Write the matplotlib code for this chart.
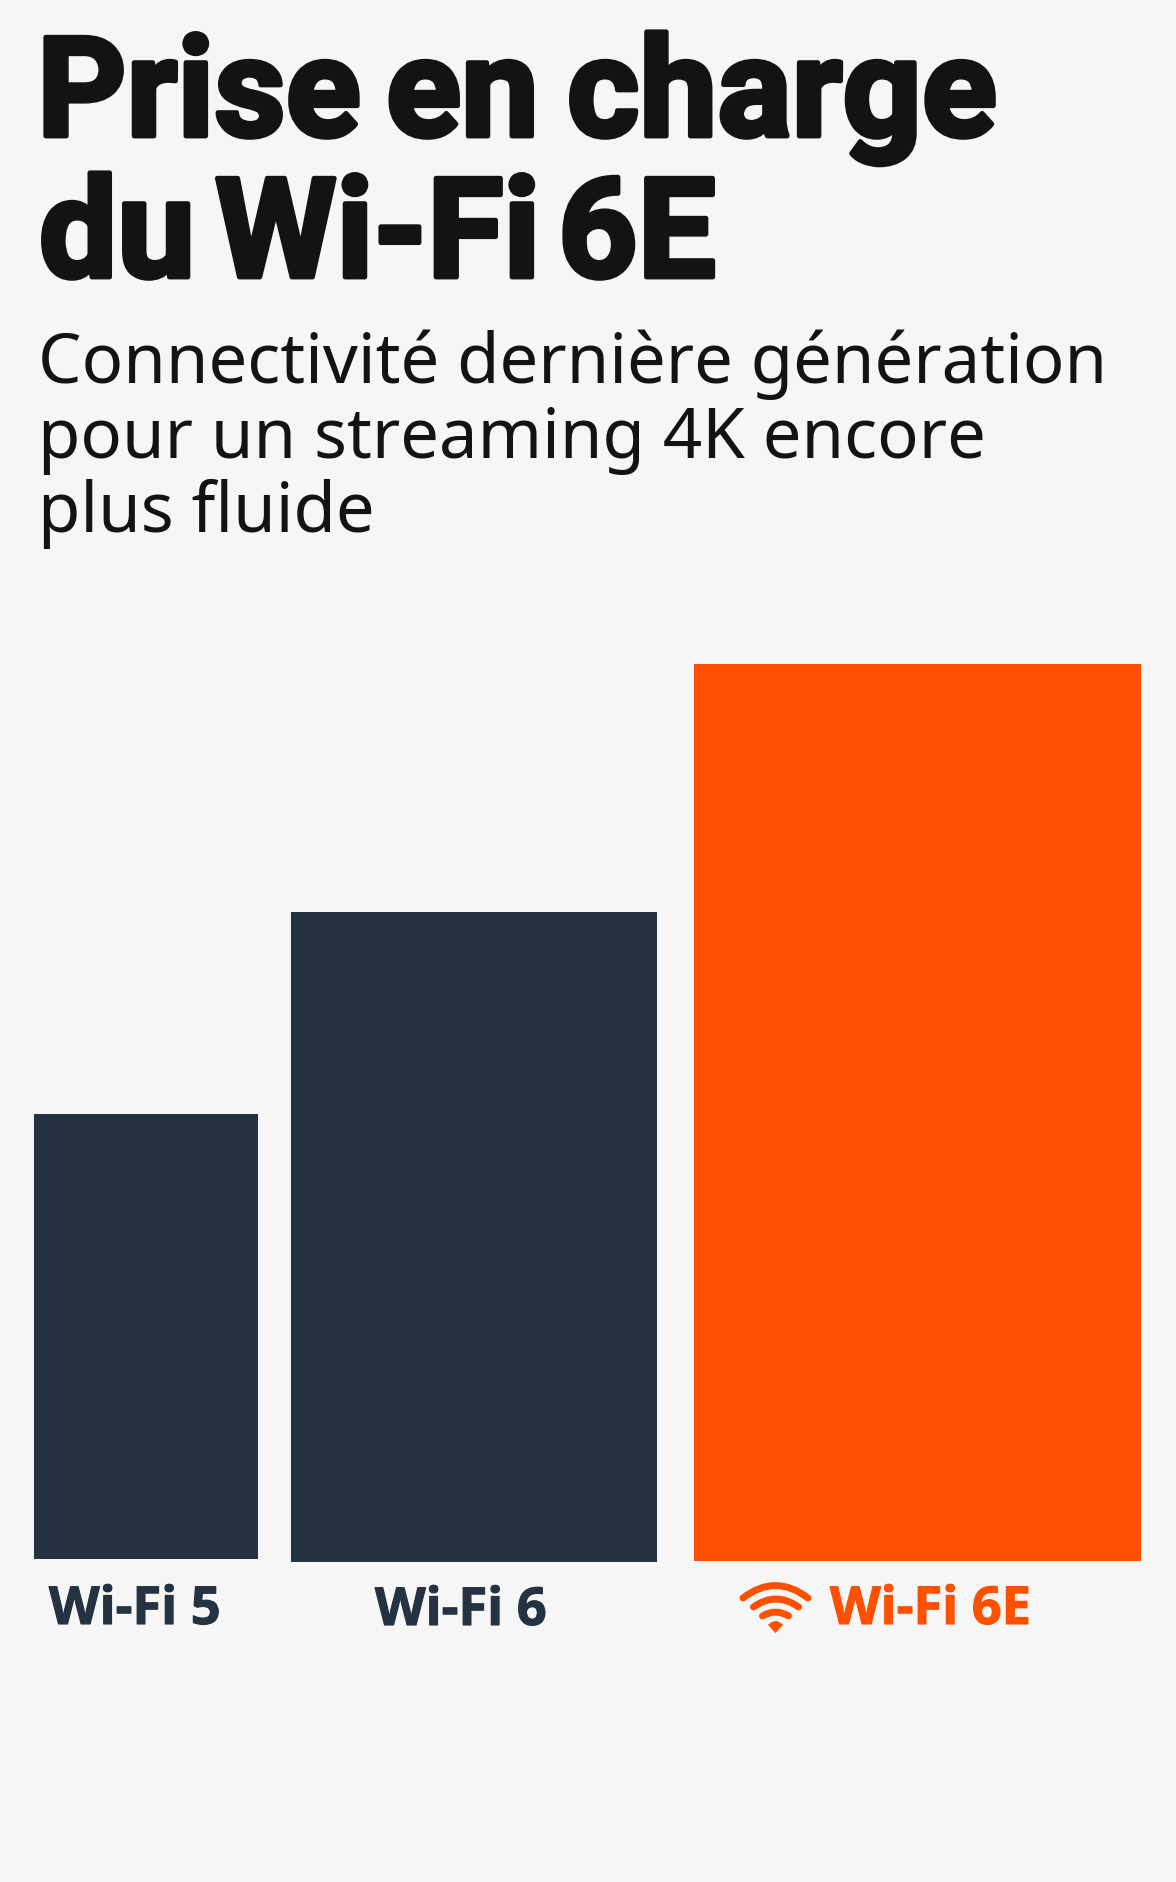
# wifi6e_bars.py
import matplotlib
matplotlib.use("Agg")
import matplotlib.pyplot as plt
import matplotlib.patheffects as pe
from matplotlib.patches import PathPatch
from matplotlib.path import Path

WIDTH, HEIGHT = 1176, 1882

# data
title_words = [["Prise", "en", "charge"], ["du", "Wi-Fi", "6E"]]
subtitle_lines = ["Connectivité dernière génération", "pour un streaming 4K encore", "plus fluide"]
categories = ["Wi-Fi 5", "Wi-Fi 6", "Wi-Fi 6E"]
values = [445, 650, 897]

# layout, in pixels of the picture
bar_left = [34, 291, 694]
bar_width = [224, 366, 447]
bar_base = [1559, 1562, 1561]
label_left = [49, 375, 830]
label_base = [1624, 1625, 1624]
title_base = [136, 277]
title_left = [[37, 386, 567], [39, 215, 558]]
subtitle_base = [383, 458, 532]

BG = "#f6f6f6"
DARK = "#253241"
ORANGE = "#fe5000"
INK = "#111413"

fig = plt.figure(figsize=(WIDTH / 100, HEIGHT / 100), dpi=100, facecolor=BG)
ax = fig.add_axes([0, 0, 1, 1])
ax.set_xlim(0, WIDTH)
ax.set_ylim(HEIGHT, 0)
ax.axis("off")

colors = [DARK, DARK, ORANGE]
ax.bar(bar_left, [-v for v in values], width=bar_width, bottom=bar_base, align="edge", color=colors, linewidth=0)

# Titel, word by word because the gaps are tighter than a normal space
for words, lefts, y in zip(title_words, title_left, title_base):
    for word, x in zip(words, lefts):
        ax.text(x, y, word, family="Roboto", weight="bold", fontsize=100, color=INK, va="baseline",
                path_effects=[pe.withStroke(linewidth=3.5, foreground=INK)])

for line, y in zip(subtitle_lines, subtitle_base):
    ax.text(38, y, line, family="Noto Sans", fontsize=49.6, color=INK, va="baseline")

for name, x, y, col in zip(categories, label_left, label_base, colors):
    ax.text(x, y, name, family="Open Sans", weight="bold", fontsize=37.7, color=col, va="baseline",
            path_effects=[pe.withStroke(linewidth=0.8, foreground=col)])

# wifi icon
arcs = [(743, 808, 1598, 1585.5), (753.5, 798.5, 1607, 1599), (762.5, 788.5, 1616, 1612)]
for x0, x1, y0, top in arcs:
    ctrl = ((x0 + x1) / 2, y0 - 2 * (y0 - top))
    ax.add_patch(PathPatch(Path([(x0, y0), ctrl, (x1, y0)], [Path.MOVETO, Path.CURVE3, Path.CURVE3]),
                           fill=False, edgecolor=ORANGE, linewidth=5, capstyle="round"))
drop = Path([(770, 1625), (775.5, 1620), (781, 1625), (775.5, 1631), (770, 1625)],
            [Path.MOVETO, Path.CURVE3, Path.CURVE3, Path.LINETO, Path.CLOSEPOLY])
ax.add_patch(PathPatch(drop, facecolor=ORANGE, edgecolor=ORANGE, linewidth=2))

fig.savefig("out.png", dpi=100, facecolor=BG)
